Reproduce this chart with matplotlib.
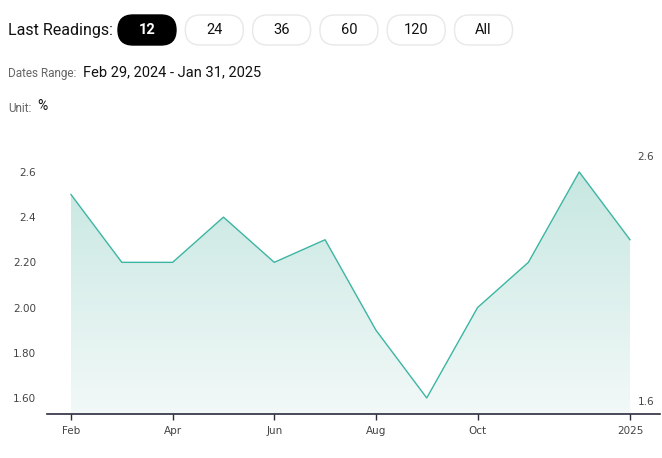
import matplotlib
matplotlib.use("Agg")
import matplotlib.pyplot as plt
import numpy as np
from matplotlib.patches import FancyBboxPatch
from matplotlib.colors import LinearSegmentedColormap

# data
months = ["Feb", "Mar", "Apr", "May", "Jun", "Jul", "Aug", "Sep", "Oct", "Nov", "Dec", "Jan"]
values = [2.5, 2.2, 2.2, 2.4, 2.2, 2.3, 1.9, 1.6, 2.0, 2.2, 2.6, 2.3]
xtick_idx = [0, 2, 4, 6, 8, 11]
xtick_labels = ["Feb", "Apr", "Jun", "Aug", "Oct", "2025"]
ytick_vals = [1.6, 1.8, 2.0, 2.2, 2.4, 2.6]
ytick_labels = ["1.60", "1.80", "2.00", "2.20", "2.4", "2.6"]
buttons = ["12", "24", "36", "60", "120", "All"]

W, H = 662, 458
fig = plt.figure(figsize=(W / 100, H / 100), dpi=100)
fig.patch.set_facecolor("white")

# overlay in pixel coords for the header
hx = fig.add_axes([0, 0, 1, 1])
hx.set_xlim(0, W)
hx.set_ylim(H, 0)
hx.axis("off")

hdr_font = "Roboto"
hx.text(8, 30, "Last Readings:", fontsize=11.5, family=hdr_font,
        color="#111111", va="center", ha="left")
for i, lab in enumerate(buttons):
    x0 = 118 + i * 67.3
    active = i == 0
    pill = FancyBboxPatch((x0 + 15, 15 + 15), 58 - 30, 0,
                          boxstyle="round,pad=15",
                          facecolor="black" if active else "white",
                          edgecolor="black" if active else "#e8e8e8", linewidth=1)
    hx.add_patch(pill)
    hx.text(x0 + 29, 30, lab, fontsize=10.5, family=hdr_font,
            color="white" if active else "#111111", ha="center", va="center",
            fontweight="bold" if active else "normal")

hx.text(8, 73, "Dates Range:", fontsize=8.5, family=hdr_font,
        color="#666666", va="center")
hx.text(83, 72, "Feb 29, 2024 - Jan 31, 2025", fontsize=10.5,
        family=hdr_font, color="#111111", va="center")
hx.text(8, 108, "Unit:", fontsize=8.5, family=hdr_font,
        color="#666666", va="center")
hx.text(37, 106, "%", fontsize=10, family=hdr_font,
        color="#111111", va="center")

# chart area
ax = fig.add_axes([47 / W, 1 - 414 / H, (660 - 47) / W, (414 - 150) / H])
x = np.arange(len(months))
y = np.array(values)

ymin, ymax = 1.529, 2.697
ax.set_xlim(-0.472, 11.59)
ax.set_ylim(ymin, ymax)

line_color = "#3db5a3"
poly = ax.fill_between(x, y, ymin, color="none", linewidth=0)
cmap = LinearSegmentedColormap.from_list("g", ["#f2f9f8", "#c7e7e1"])
grad = np.linspace(0, 1, 256).reshape(-1, 1)
img = ax.imshow(grad, extent=[x[0], x[-1], ymin, max(values)], origin="lower",
                cmap=cmap, aspect="auto", zorder=1)
img.set_clip_path(poly.get_paths()[0], transform=ax.transData)
ax.plot(x, y, color=line_color, linewidth=1.0, zorder=3)

for s in ["top", "right", "left"]:
    ax.spines[s].set_visible(False)
ax.spines["bottom"].set_color("#2b2b3d")
ax.spines["bottom"].set_linewidth(1.2)

ax.set_xticks(xtick_idx)
ax.set_xticklabels(xtick_labels, fontsize=7.5, color="#444444")
ax.tick_params(axis="x", length=4, width=1, color="#2b2b3d", pad=5)
ax.set_yticks(ytick_vals)
ax.set_yticklabels(ytick_labels, fontsize=7.5, color="#444444")
ax.tick_params(axis="y", length=0, pad=8)

# max/min labels on the right
ax.text(11.15, max(values) + 0.067, f"{max(values):g}", fontsize=7.5,
        color="#444444", ha="left", va="center")
ax.text(11.15, min(values) - 0.02, f"{min(values):g}", fontsize=7.5,
        color="#444444", ha="left", va="center")

fig.savefig("out.png", dpi=100)
